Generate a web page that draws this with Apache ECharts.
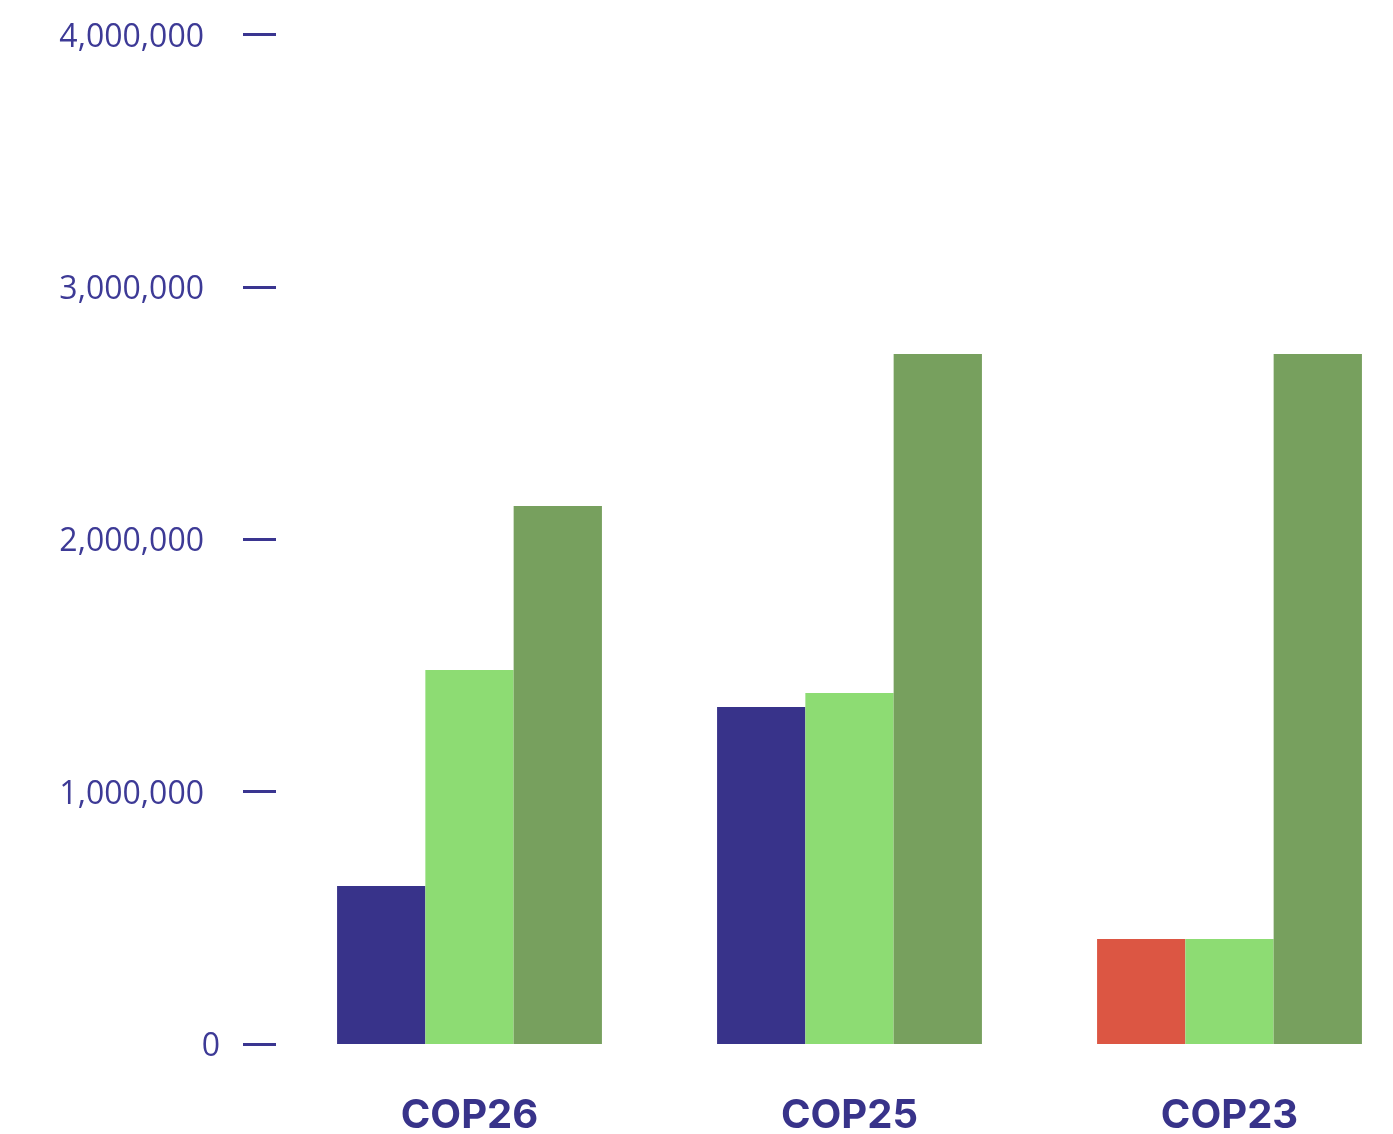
<!DOCTYPE html>
<html>
<head>
<meta charset="utf-8">
<style>
  html, body { margin: 0; padding: 0; background: #ffffff; }
  #chart { width: 1393px; height: 1134px; }
</style>
<script src="https://cdn.jsdelivr.net/npm/echarts@6/dist/echarts.min.js"></script>
</head>
<body>
<div id="chart"></div>
<script>
// Conference editions shown along the x axis
const categories = ['COP26', 'COP25', 'COP23'];

// Three measures per conference
const seriesFirst  = [626000, 1335000, 416000];
const seriesSecond = [1482000, 1391000, 416000];
const seriesThird  = [2132000, 2734000, 2734000];

// Value axis range and step
const yMin = 0;
const yMax = 4000000;
const yStep = 1000000;

const navy = '#38338a';
const lightGreen = '#8ddc73';
const darkGreen = '#77a05e';
const red = '#dc5643';
const labelColor = '#3d3a96';
const labelFont = '"Open Sans", "Noto Sans", sans-serif';

// The first measure for COP23 is highlighted in red
const firstColors = [navy, navy, red];

const chart = echarts.init(document.getElementById('chart'));

chart.setOption({
  animation: false,
  backgroundColor: '#ffffff',
  grid: {
    left: 279.5,
    width: 1140,
    top: 34.4,
    bottom: 90,
    outerBoundsMode: 'none',
    containLabel: false
  },
  xAxis: {
    type: 'category',
    data: categories,
    axisLine: { show: false },
    axisTick: { show: false },
    axisLabel: {
      margin: 52,
      color: navy,
      fontSize: 40,
      fontWeight: 'bold',
      fontFamily: 'Inter, "Noto Sans", sans-serif'
    }
  },
  yAxis: {
    type: 'value',
    min: yMin,
    max: yMax,
    interval: yStep,
    offset: 3.5,
    splitLine: { show: false },
    axisLine: { show: false },
    axisTick: { show: true, length: 33, lineStyle: { color: '#3a3590', width: 3 } },
    axisLabel: {
      margin: 56,
      formatter: function (v) {
        if (v === 0) return '{z|0}';
        return '{n|' + v.toLocaleString('en-US') + '}';
      },
      rich: {
        z: { fontSize: 32, fontWeight: 400, color: labelColor, fontFamily: labelFont, padding: [6, 0, 0, 0] },
        n: { fontSize: 32, fontWeight: 400, color: labelColor, fontFamily: labelFont, padding: [6, 16, 0, 0] }
      }
    }
  },
  series: [
    {
      type: 'bar',
      name: 'first',
      data: seriesFirst.map((v, i) => ({ value: v, itemStyle: { color: firstColors[i] } })),
      barGap: '0%',
      barCategoryGap: '30.3%'
    },
    {
      type: 'bar',
      name: 'second',
      data: seriesSecond,
      itemStyle: { color: lightGreen },
      barGap: '0%',
      barCategoryGap: '30.3%'
    },
    {
      type: 'bar',
      name: 'third',
      data: seriesThird,
      itemStyle: { color: darkGreen },
      barGap: '0%',
      barCategoryGap: '30.3%'
    }
  ]
});
</script>
</body>
</html>
